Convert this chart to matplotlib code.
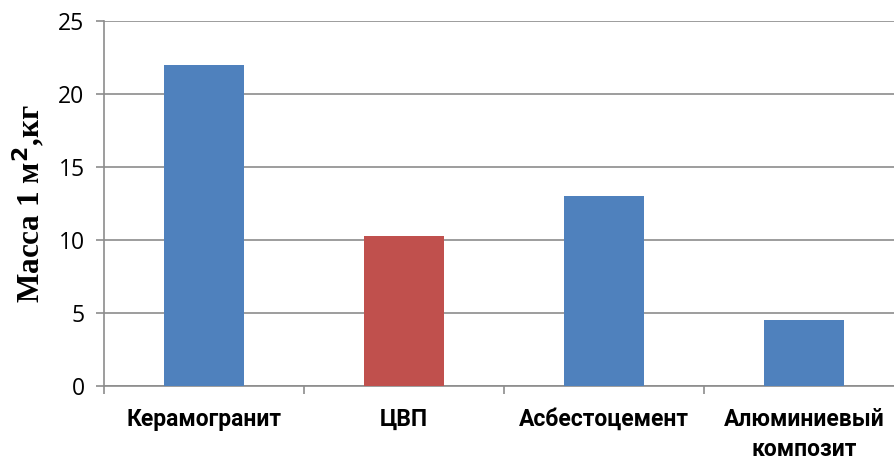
import matplotlib.pyplot as plt
import numpy as np

categories = ['Керамогранит', 'ЦВП', 'Асбестоцемент', 'Алюминиевый\nкомпозит']
values = [22, 10.3, 13, 4.5]
colors = ['#4F81BD', '#C0504D', '#4F81BD', '#4F81BD']
yticks = [0, 5, 10, 15, 20, 25]

fig = plt.figure(figsize=(8.95, 4.61), dpi=100)
ax = fig.add_axes([0.1162, 0.1627, 0.8939, 0.7918])

x = np.arange(len(categories))
ax.bar(x, values, width=0.4, color=colors, zorder=3)

ax.set_xlim(-0.5, len(categories) - 0.5)
ax.set_ylim(0, 25)
ax.set_yticks(yticks)
ax.yaxis.grid(True, color='#8c8c8c', linewidth=1.2, zorder=0)

ax.set_xticks(x)
ax.set_xticklabels(categories, fontsize=16.5, fontweight='bold',
                   family=['Roboto', 'DejaVu Sans'], linespacing=1.4)
ax.set_xticks(np.arange(-0.5, len(categories), 1), minor=True)
ax.tick_params(axis='x', which='major', length=0, pad=16)
ax.tick_params(axis='x', which='minor', length=6, color='#8c8c8c', width=1.2)
ax.tick_params(axis='y', length=6, color='#8c8c8c', width=1.2, labelsize=16.5, pad=8)
for lab in ax.get_yticklabels():
    lab.set_family(['Open Sans', 'DejaVu Sans'])

for side in ['top', 'right']:
    ax.spines[side].set_visible(False)
ax.spines['left'].set_color('#8c8c8c')
ax.spines['bottom'].set_color('#8c8c8c')
ax.spines['left'].set_linewidth(1.2)
ax.spines['bottom'].set_linewidth(1.2)

ax.set_ylabel('Масса 1 м$^{\\mathbf{2}}$,кг', fontsize=22.5, fontweight='bold',
              family='Liberation Serif', labelpad=8)

fig.savefig('out.png', dpi=100)
